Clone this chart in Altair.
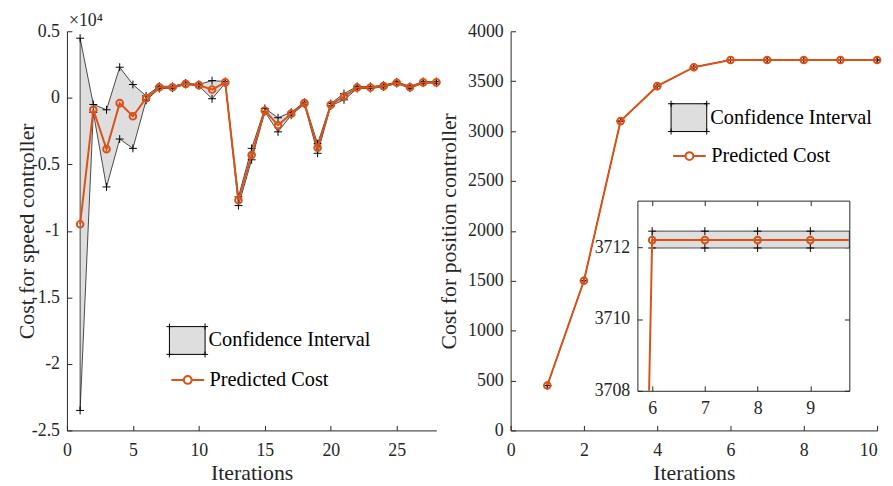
import altair as alt
import pandas as pd

# ---------------- data ----------------
speed_iter = list(range(1, 29))
speed_pred = [-9500, -900, -3860, -400, -1390, -30, 790, 790, 1050, 950,
              620, 1160, -7700, -4300, -950, -2060, -1190, -400, -3750, -520,
              100, 770, 770, 880, 1130, 790, 1160, 1160]
speed_upper = [4480, -500, -900, 2300, 1000, 150, 870, 860, 1110, 1010,
               1290, 1230, -7450, -3800, -800, -1500, -1080, -330, -3450, -430,
               320, 860, 850, 950, 1200, 860, 1230, 1230]
speed_lower = [-23500, -1100, -6700, -3100, -3800, -200, 700, 720, 1000, 900,
               -70, 1100, -8100, -4660, -1050, -2560, -1300, -480, -4170, -600,
               -150, 690, 700, 820, 1070, 720, 1100, 1100]

pos_iter = list(range(1, 11))
pos_pred = [450, 1500, 3100, 3450, 3640, 3712.2, 3712.2, 3712.2, 3712.2, 3712.2]
pos_upper = [450.3, 1500.3, 3100.3, 3450.3, 3640.3, 3712.45, 3712.45, 3712.45, 3712.45, 3712.45]
pos_lower = [449.8, 1499.8, 3099.8, 3449.8, 3639.8, 3711.98, 3711.98, 3711.98, 3711.98, 3711.98]

left_xticks = [0, 5, 10, 15, 20, 25]
left_yticks = [-25000, -20000, -15000, -10000, -5000, 0, 5000]
right_xticks = [0, 2, 4, 6, 8, 10]
right_yticks = [0, 500, 1000, 1500, 2000, 2500, 3000, 3500, 4000]
inset_xticks = [6, 7, 8, 9]
inset_yticks = [3708, 3710, 3712]
inset_xdom = [5.72, 9.74]
inset_ydom = [3708, 3713.3]

CI_LABEL = "Confidence Interval"
PC_LABEL = "Predicted Cost"

# ---------------- style ----------------
FONT = "Liberation Serif"
ORANGE = "#D95319"
GRAY = "#DEDEDE"
INK = "#262626"
W1, W2, H = 373, 370, 403
GAP = 75
INSET_X = [128, 342]
INSET_Y = [363, 171]

PLUS = "M-1,0H1M0,-1V1"
CI_SYM = ("M-1,-0.78H1V0.78H-1Z"
          "M-1.17,-0.78H-0.83M-1,-0.95V-0.61"
          "M0.83,-0.78H1.17M1,-0.95V-0.61"
          "M-1.17,0.78H-0.83M-1,0.61V0.95"
          "M0.83,0.78H1.17M1,0.61V0.95")
PC_SYM = ("M-0.92,0H-0.22M0.22,0H0.92"
          "M0.22,0A0.22,0.22,0,1,1,-0.22,0A0.22,0.22,0,1,1,0.22,0")


def tick_axis(orient, values, offset, domain=False):
    return alt.Axis(orient=orient, values=values, offset=offset, labels=False,
                    ticks=True, tickSize=5, tickColor=INK, tickWidth=1,
                    domain=domain, domainColor=INK, domainWidth=1, grid=False, title=None)


def label_axis(orient, values, offset=0, pad=7, domain=True, title=None,
               title_x=None, title_y=None, fmt=None, expr=None, last_right=None):
    d = dict(orient=orient, values=values, offset=offset, ticks=False, tickSize=0,
             domain=domain, domainColor=INK, domainWidth=1, grid=False,
             labelFont=FONT, labelFontSize=18, labelColor=INK, labelPadding=pad,
             labelFlush=False, labelOverlap=False)
    if orient in ("bottom", "top"):
        d["labelBaseline"] = "alphabetic"
    if last_right is not None:
        # keep the last label inside the page width
        d["labelAlign"] = {"condition": {"test": "datum.value == %s" % last_right, "value": "right"},
                           "value": "center"}
    if fmt is not None:
        d["format"] = fmt
    if expr is not None:
        d["labelExpr"] = expr
    if title is None:
        d["title"] = None
    else:
        d.update(title=title, titleFont=FONT, titleFontSize=22, titleFontWeight="normal",
                 titleColor=INK, titleBaseline="alphabetic")
        if title_x is not None:
            d["titleX"] = title_x
        if title_y is not None:
            d["titleY"] = title_y
    return alt.Axis(**d)


def legends(lx, ly_ci, ly_pc):
    common = dict(title=None, orient="none", legendX=lx, symbolSize=1296,
                  labelFont=FONT, labelFontSize=20.5, labelColor="black",
                  labelOffset=3, labelLimit=400, padding=0)
    ci = alt.Legend(legendY=ly_ci, symbolType=CI_SYM, symbolStrokeColor="black",
                    symbolStrokeWidth=1, symbolFillColor=GRAY, **common)
    pc = alt.Legend(legendY=ly_pc, symbolType=PC_SYM, symbolStrokeColor=ORANGE,
                    symbolStrokeWidth=2, symbolFillColor="white", **common)
    return ci, pc


def main_layer(df, W, xdom, ydom, xticks, yticks, ytitle, ytitle_x, yfmt, yexpr, leg,
               last_right=None):
    xs = alt.Scale(domain=xdom, nice=False, zero=False)
    ys = alt.Scale(domain=ydom, nice=False, zero=False)
    ci_leg, pc_leg = leg
    base = alt.Chart(df)
    band = base.mark_area(stroke="black", strokeWidth=0.7, opacity=1).encode(
        x=alt.X("it:Q", scale=xs,
                axis=label_axis("bottom", xticks, pad=25, title="Iterations",
                                title_y=50, fmt="d", last_right=last_right)),
        y=alt.Y("up:Q", scale=ys,
                axis=label_axis("left", yticks, pad=7.5, title=ytitle, title_x=ytitle_x,
                                fmt=yfmt, expr=yexpr)),
        y2="lo:Q",
        fill=alt.Fill("ci:N", scale=alt.Scale(domain=[CI_LABEL], range=[GRAY]), legend=ci_leg),
    )
    plus_up = base.mark_point(shape=PLUS, size=64, filled=False, stroke="black",
                              strokeWidth=1, opacity=1).encode(
        x=alt.X("it:Q", scale=xs, axis=tick_axis("top", xticks, -H)),
        y=alt.Y("up:Q", scale=ys, axis=tick_axis("right", yticks, -W)),
    )
    plus_lo = base.mark_point(shape=PLUS, size=64, filled=False, stroke="black",
                              strokeWidth=1, opacity=1).encode(
        x=alt.X("it:Q", scale=xs, axis=None),
        y=alt.Y("lo:Q", scale=ys, axis=None),
    )
    line = base.mark_line(strokeWidth=2).encode(
        x=alt.X("it:Q", scale=xs, axis=None),
        y=alt.Y("pred:Q", scale=ys, axis=None),
        stroke=alt.Stroke("pc:N", scale=alt.Scale(domain=[PC_LABEL], range=[ORANGE]), legend=pc_leg),
    )
    pts = base.mark_point(size=45, filled=False, color=ORANGE, strokeWidth=2, opacity=1).encode(
        x=alt.X("it:Q", scale=xs, axis=None),
        y=alt.Y("pred:Q", scale=ys, axis=None),
    )
    return alt.layer(band, plus_up, plus_lo, line, pts).resolve_axis(x="independent", y="independent")


# ---------------- left panel ----------------
speed_df = pd.DataFrame({"it": speed_iter, "pred": speed_pred,
                         "up": speed_upper, "lo": speed_lower})
speed_df["ci"] = CI_LABEL
speed_df["pc"] = PC_LABEL

left_main = main_layer(speed_df, W1, [0, 28], [-25000, 5000], left_xticks, left_yticks,
                       "Cost for speed controller", -33.3, None, "datum.value / 10000 + ''",
                       legends(103, 293.7, 333))

# multiplier label of the left y axis
mult = alt.Chart(speed_df).mark_point(opacity=0).encode(
    x=alt.X("it:Q", scale=alt.Scale(domain=[0, 28], nice=False, zero=False), axis=None),
    y=alt.Y("pred:Q", scale=alt.Scale(domain=[-25000, 5000], nice=False, zero=False),
            axis=alt.Axis(orient="right", offset=-W1, values=left_yticks, labels=False,
                          ticks=False, domain=False, grid=False, title="×10⁴",
                          titleAngle=0, titleX=1.5, titleY=-5.5, titleAlign="left",
                          titleBaseline="alphabetic", titleFont=FONT, titleFontSize=18,
                          titleFontWeight="normal", titleColor=INK)),
)
left = alt.layer(left_main, mult).resolve_axis(x="independent", y="independent").properties(
    width=W1, height=H)

# ---------------- right panel ----------------
pos_df = pd.DataFrame({"it": pos_iter, "pred": pos_pred, "up": pos_upper, "lo": pos_lower})
pos_df["ci"] = CI_LABEL
pos_df["pc"] = PC_LABEL

right_main = main_layer(pos_df, W2, [0, 10], [0, 4000], right_xticks, right_yticks,
                        "Cost for position controller", -56, "d", None,
                        legends(161.5, 68.7, 107), last_right=right_xticks[-1])

# inset: same series seen through a zoomed window (clipped to the window)
def clip_entry(xs, ys, ymin):
    for i in range(1, len(ys)):
        if ys[i - 1] < ymin <= ys[i]:
            t = (ymin - ys[i - 1]) / (ys[i] - ys[i - 1])
            return xs[i - 1] + t * (xs[i] - xs[i - 1]), i
    return xs[0], 0


xc, k = clip_entry(pos_iter, pos_pred, inset_ydom[0])
inset_line_df = pd.DataFrame({"it": [xc] + pos_iter[k:], "pred": [inset_ydom[0]] + pos_pred[k:]})
inset_band_df = pos_df[pos_df["it"] >= k + 1][["it", "up", "lo"]]
inset_pts_df = pos_df[(pos_df["it"] >= inset_xdom[0]) & (pos_df["it"] <= inset_xdom[1])][["it", "pred", "up", "lo"]]

ixs = alt.Scale(domain=inset_xdom, range=INSET_X, nice=False, zero=False, clamp=True)
iys = alt.Scale(domain=inset_ydom, range=INSET_Y, nice=False, zero=False, clamp=True)

i_band = alt.Chart(inset_band_df).mark_area(fill=GRAY, stroke="black", strokeWidth=0.7, opacity=1).encode(
    x=alt.X("it:Q", scale=ixs,
            axis=label_axis("bottom", inset_xticks, offset=INSET_Y[0] - H, pad=23,
                            domain=False, fmt="d")),
    y=alt.Y("up:Q", scale=iys,
            axis=label_axis("left", inset_yticks, offset=-INSET_X[0], pad=7.7,
                            domain=False, fmt="d")),
    y2="lo:Q",
)
i_plus_up = alt.Chart(inset_pts_df).mark_point(shape=PLUS, size=64, filled=False, stroke="black",
                                               strokeWidth=1, opacity=1).encode(
    x=alt.X("it:Q", scale=ixs, axis=tick_axis("top", inset_xticks, -INSET_Y[0], domain=True)),
    y=alt.Y("up:Q", scale=iys, axis=tick_axis("right", inset_yticks, INSET_X[0] - W2, domain=True)),
)
i_plus_lo = alt.Chart(inset_pts_df).mark_point(shape=PLUS, size=64, filled=False, stroke="black",
                                               strokeWidth=1, opacity=1).encode(
    x=alt.X("it:Q", scale=ixs, axis=tick_axis("bottom", inset_xticks, INSET_Y[1] - H, domain=True)),
    y=alt.Y("lo:Q", scale=iys, axis=tick_axis("left", inset_yticks, -INSET_X[1], domain=True)),
)
i_line = alt.Chart(inset_line_df).mark_line(color=ORANGE, strokeWidth=2).encode(
    x=alt.X("it:Q", scale=ixs, axis=None),
    y=alt.Y("pred:Q", scale=iys, axis=None),
)
i_pts = alt.Chart(inset_pts_df).mark_point(size=45, filled=False, color=ORANGE, strokeWidth=2, opacity=1).encode(
    x=alt.X("it:Q", scale=ixs, axis=None),
    y=alt.Y("pred:Q", scale=iys, axis=None),
)
inset = alt.layer(i_band, i_plus_up, i_plus_lo, i_line, i_pts).resolve_axis(x="independent", y="independent")

right = alt.layer(right_main, inset).resolve_scale(x="independent", y="independent").properties(
    width=W2, height=H)

chart = alt.hconcat(left, right, spacing=GAP, bounds="flush").resolve_scale(
    fill="independent", stroke="independent"
).resolve_legend(fill="independent", stroke="independent").properties(
    padding={"left": 7.5, "top": 1.2, "right": 0, "bottom": 0}, background="white"
).configure_view(stroke=None)

chart.save("out.html", embed_options={"renderer": "svg", "actions": False})
